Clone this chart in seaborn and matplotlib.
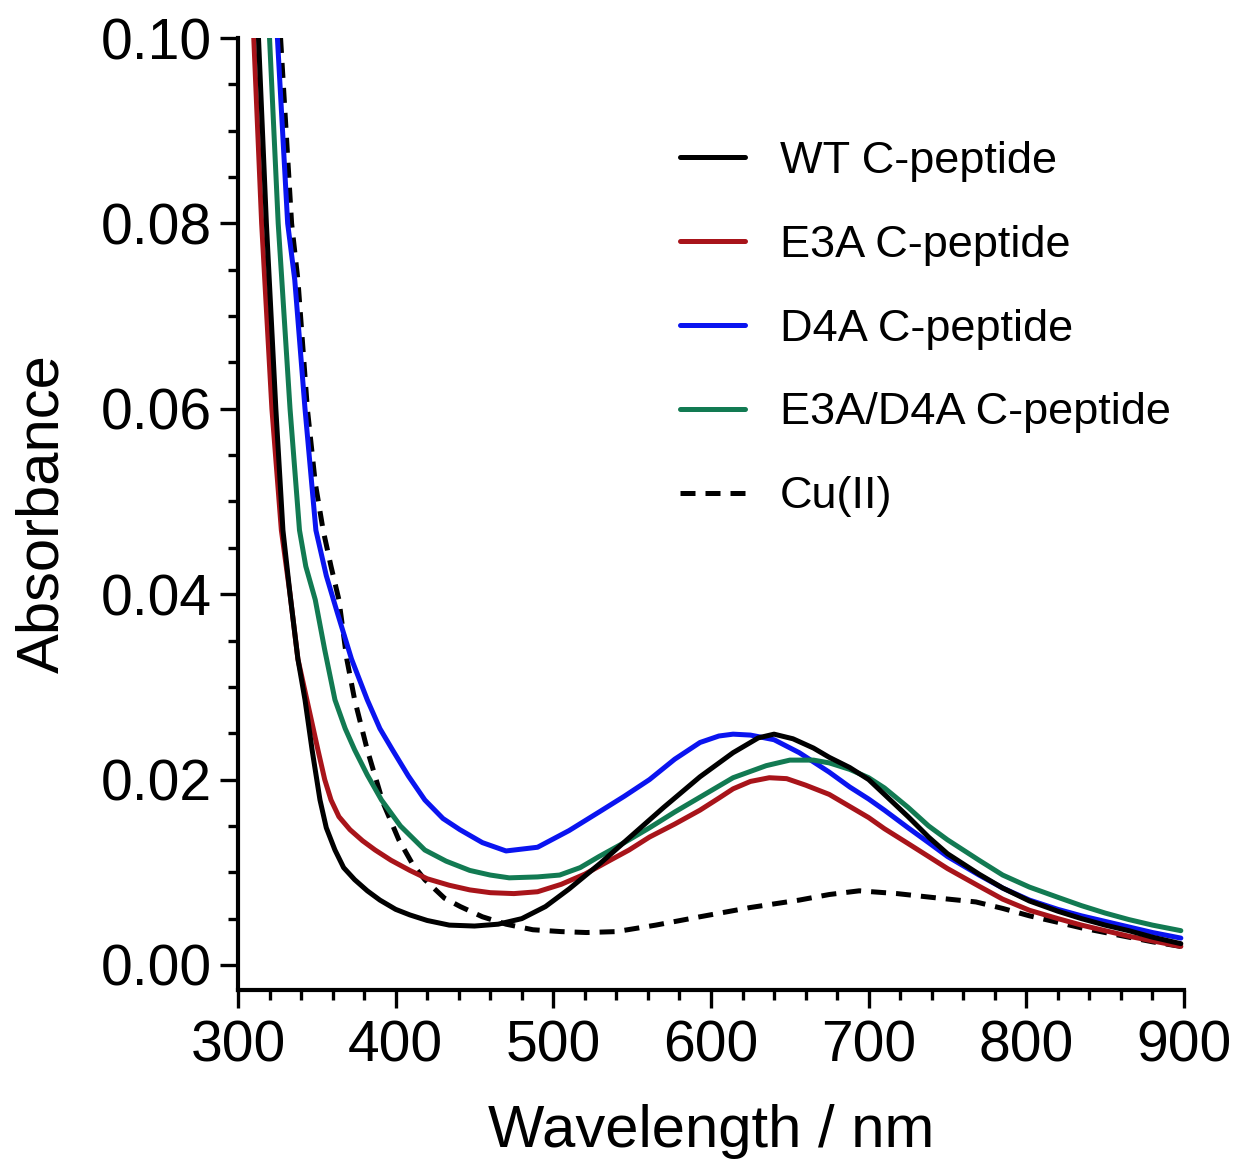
import matplotlib
matplotlib.use("Agg")
import matplotlib.pyplot as plt
import seaborn as sns
import pandas as pd
from matplotlib.ticker import MultipleLocator, FormatStrFormatter

# values (wavelength in nm, absorbance)
wt_nm = [313, 318, 324, 328.5, 333, 338, 342.5, 347, 352, 356, 361.5, 367, 374,
         382, 390, 400, 409, 420, 434, 450, 465, 480, 495, 510, 530, 550, 570,
         593, 614, 630, 640, 652, 665, 675, 688, 700, 710, 725, 738, 750, 770,
         785, 802, 820, 835, 850, 865, 880, 898]
wt_abs = [0.100, 0.080, 0.060, 0.0469, 0.0400, 0.0330, 0.0286, 0.0232, 0.0178,
          0.0148, 0.0124, 0.0105, 0.0092, 0.0080, 0.0070, 0.0060, 0.0054, 0.0048,
          0.0043, 0.0042, 0.0044, 0.0050, 0.0063, 0.0082, 0.0110, 0.0140, 0.0170,
          0.0203, 0.0229, 0.0245, 0.0249, 0.0244, 0.0234, 0.0224, 0.0213, 0.0200,
          0.0184, 0.0160, 0.0138, 0.0120, 0.0098, 0.0083, 0.0069, 0.0058, 0.0050,
          0.0043, 0.0037, 0.0030, 0.0023]

e3a_nm = [310, 315, 321.5, 327.5, 333, 338, 343.7, 350.7, 355, 359, 364, 371,
          379, 387, 397, 409, 420, 434, 447, 460, 475, 490, 505, 520, 535, 548,
          561, 577, 593, 605, 614, 625, 637, 648, 660, 675, 688, 700, 710, 725,
          738, 750, 770, 785, 802, 820, 835, 850, 865, 880, 898]
e3a_abs = [0.100, 0.080, 0.060, 0.0469, 0.0400, 0.0330, 0.0286, 0.0232, 0.0200,
           0.0178, 0.0160, 0.0146, 0.0134, 0.0124, 0.0113, 0.0102, 0.0093, 0.0086,
           0.0081, 0.0078, 0.0077, 0.0079, 0.0087, 0.0098, 0.0112, 0.0124, 0.0138,
           0.0152, 0.0167, 0.0180, 0.0190, 0.0198, 0.0202, 0.0201, 0.0194, 0.0184,
           0.0171, 0.0159, 0.0147, 0.0131, 0.0117, 0.0104, 0.0085, 0.0071, 0.0059,
           0.0050, 0.0043, 0.0037, 0.0031, 0.0026, 0.0020]

d4a_nm = [325, 331.5, 336, 342.5, 349.4, 356, 363, 372, 382, 390, 398, 408,
          418.5, 430, 440.7, 455, 470, 490, 510, 529, 545, 561, 577, 593, 605,
          614, 625, 640, 656, 675, 688, 700, 710, 725, 738, 750, 770, 785, 802,
          820, 835, 850, 865, 880, 898]
d4a_abs = [0.100, 0.080, 0.0739, 0.060, 0.0469, 0.0420, 0.0380, 0.0330, 0.0286,
           0.0255, 0.0232, 0.0204, 0.0178, 0.0158, 0.0146, 0.0132, 0.0123, 0.0127,
           0.0145, 0.0165, 0.0182, 0.0200, 0.0222, 0.0240, 0.0247, 0.0249, 0.0248,
           0.0243, 0.0229, 0.0208, 0.0192, 0.0179, 0.0167, 0.0148, 0.0132, 0.0117,
           0.0097, 0.0083, 0.0070, 0.0060, 0.0053, 0.0047, 0.0041, 0.0035, 0.0029]

dm_nm = [320, 325.5, 333, 339, 343, 349, 355, 361.5, 368, 374, 382, 391, 403,
         418.5, 432, 447, 460, 472, 490, 504, 517, 529, 545, 561, 577, 593, 614,
         635, 650, 665, 675, 688, 700, 710, 725, 738, 750, 770, 785, 802, 820,
         835, 850, 865, 880, 898]
dm_abs = [0.100, 0.080, 0.060, 0.0469, 0.0430, 0.0394, 0.0340, 0.0286, 0.0255,
          0.0232, 0.0205, 0.0178, 0.0150, 0.0124, 0.0112, 0.0102, 0.0097, 0.0094,
          0.0095, 0.0097, 0.0105, 0.0117, 0.0132, 0.0148, 0.0165, 0.0181, 0.0202,
          0.0215, 0.0221, 0.0221, 0.0218, 0.0211, 0.0202, 0.0191, 0.0170, 0.0150,
          0.0135, 0.0113, 0.0097, 0.0084, 0.0073, 0.0064, 0.0056, 0.0049, 0.0043,
          0.0037]

cu_nm = [327, 334, 338, 344, 349, 354, 359, 364, 369, 374, 382, 392, 402, 411,
         418.5, 431, 441, 455, 470, 487, 505, 521, 540, 565, 593, 625, 656, 675,
         694, 718, 745, 768, 785, 802, 820, 835, 850, 865, 880, 898]
cu_abs = [0.100, 0.080, 0.0739, 0.060, 0.0520, 0.0469, 0.0430, 0.0394, 0.0330,
          0.0286, 0.0232, 0.0175, 0.0135, 0.0108, 0.0092, 0.0072, 0.0063, 0.0052,
          0.0044, 0.0038, 0.0036, 0.0035, 0.0036, 0.0043, 0.0052, 0.0062, 0.0070,
          0.0076, 0.0080, 0.0077, 0.0072, 0.0068, 0.0061, 0.0053, 0.0046, 0.0040,
          0.0035, 0.0030, 0.0025, 0.0020]

labels = ["WT C-peptide", "E3A C-peptide", "D4A C-peptide",
          "E3A/D4A C-peptide", "Cu(II)"]
colors = ["#000000", "#a8141a", "#0a14f0", "#127a52", "#000000"]

sns.set_style("ticks")
plt.rcParams["font.family"] = ["Liberation Sans", "DejaVu Sans"]
for key in ["text.color", "axes.labelcolor", "xtick.color", "ytick.color",
            "axes.edgecolor"]:
    plt.rcParams[key] = "black"

fig = plt.figure(figsize=(12.36, 11.65), dpi=100)
ax = fig.add_axes([238 / 1236, 1 - 990 / 1165, 946 / 1236, 952 / 1165])

data = [(wt_nm, wt_abs), (e3a_nm, e3a_abs), (d4a_nm, d4a_abs),
        (dm_nm, dm_abs), (cu_nm, cu_abs)]
draw_order = [4, 2, 1, 3, 0]
handles = {}
for i in draw_order:
    nm, ab = data[i]
    df = pd.DataFrame({"Wavelength": nm, "Absorbance": ab})
    sns.lineplot(data=df, x="Wavelength", y="Absorbance", color=colors[i],
                 linewidth=3.6, ax=ax, label=labels[i], estimator=None)
    line = ax.lines[-1]
    if i == 4:
        line.set_dashes((3, 2))
    handles[i] = line

ax.set_xlim(300, 900)
ax.set_ylim(-0.0027, 0.10)
ax.xaxis.set_major_locator(MultipleLocator(100))
ax.xaxis.set_minor_locator(MultipleLocator(20))
ax.yaxis.set_major_locator(MultipleLocator(0.02))
ax.yaxis.set_minor_locator(MultipleLocator(0.005))
ax.yaxis.set_major_formatter(FormatStrFormatter("%.2f"))

for side in ["top", "right"]:
    ax.spines[side].set_visible(False)
for side in ["left", "bottom"]:
    ax.spines[side].set_linewidth(3)

ax.tick_params(axis="both", which="major", length=13, width=2.4,
               labelsize=41, direction="out")
ax.tick_params(axis="both", which="minor", length=7, width=2.4,
               direction="out")
ax.tick_params(axis="x", which="major", pad=8)
ax.tick_params(axis="y", which="major", pad=6)

ax.set_xlabel("Wavelength / nm", fontsize=43, labelpad=22)
ax.set_ylabel("Absorbance", fontsize=43, labelpad=22)

ax.legend([handles[i] for i in range(5)], labels, loc="upper left",
          bbox_to_anchor=(0.467, 0.892), frameon=False, fontsize=32.5,
          handlelength=1.44, handletextpad=0.78, labelspacing=0.95,
          borderaxespad=0, borderpad=0)

fig.savefig("out.png", dpi=100)
